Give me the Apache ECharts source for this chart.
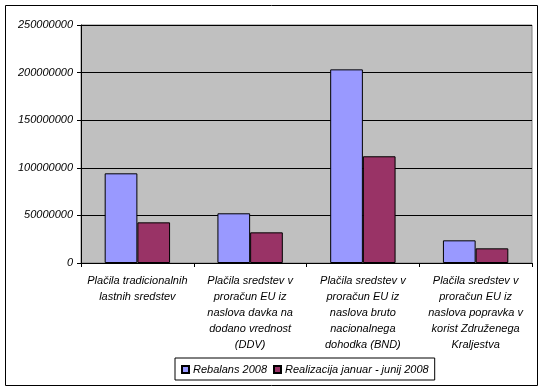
<!DOCTYPE html>
<html><head><meta charset="utf-8">
<script src="https://cdn.jsdelivr.net/npm/echarts@6/dist/echarts.min.js"></script>
<style>
html,body{margin:0;padding:0;background:#fff;}
#c{width:547px;height:391px;}
</style></head>
<body><div id="c"></div>
<script>
const categories = [
  "Plačila tradicionalnih\nlastnih sredstev",
  "Plačila sredstev v\nproračun EU iz\nnaslova davka na\ndodano vrednost\n(DDV)",
  "Plačila sredstev v\nproračun EU iz\nnaslova bruto\nnacionalnega\ndohodka (BND)",
  "Plačila sredstev v\nproračun EU iz\nnaslova popravka v\nkorist Združenega\nKraljestva"
];
const seriesNames = ["Rebalans 2008", "Realizacija januar - junij 2008"];
const rebalans = [94200000, 52200000, 203400000, 23800000];
const realizacija = [42700000, 32200000, 112100000, 15400000];
const yTicks = [0, 50000000, 100000000, 150000000, 200000000, 250000000];

const chart = echarts.init(document.getElementById('c'));
const font = {fontFamily: 'Liberation Sans, Arial, sans-serif', fontStyle: 'italic', fontSize: 11, color: '#000'};
chart.setOption({
  animation: false,
  backgroundColor: '#fff',
  graphic: [{type:'rect', shape:{x:5.5,y:5.5,width:532,height:380}, style:{fill:'none', stroke:'#000', lineWidth:1}, z:-1}],
  grid: {left: 81, right: 15, top: 25, bottom: 128, show: true, backgroundColor: '#c0c0c0', borderColor: '#808080', borderWidth: 1},
  legend: {
    data: seriesNames, left: 175, top: 358, width: 262,
    padding: [6, 6, 5, 6], itemGap: 6,
    borderColor: '#000', borderWidth: 1,
    itemWidth: 7, itemHeight: 7, icon: 'rect',
    textStyle: Object.assign({}, font, {padding: [0,0,0,-1]})
  },
  xAxis: {
    type: 'category', data: categories,
    axisLine: {lineStyle: {color: '#000'}},
    axisTick: {show: true, length: 4, lineStyle: {color: '#000'}},
    axisLabel: Object.assign({}, font, {interval: 0, lineHeight: 16, margin: 10, align: 'center'})
  },
  yAxis: {
    type: 'value', min: 0, max: yTicks[yTicks.length-1], interval: 50000000,
    axisLine: {show: true, lineStyle: {color: '#000'}},
    axisTick: {show: true, length: 4, lineStyle: {color: '#000'}},
    splitLine: {lineStyle: {color: '#000', width: 1}},
    axisLabel: Object.assign({}, font, {margin: 8, formatter: v => String(v)})
  },
  series: [
    {name: seriesNames[0], type: 'bar', data: rebalans, barGap: '0%', barCategoryGap: '42%',
     itemStyle: {color: '#9999ff', borderColor: '#000', borderWidth: 1}},
    {name: seriesNames[1], type: 'bar', data: realizacija,
     itemStyle: {color: '#993366', borderColor: '#000', borderWidth: 1}}
  ]
});
</script></body></html>
